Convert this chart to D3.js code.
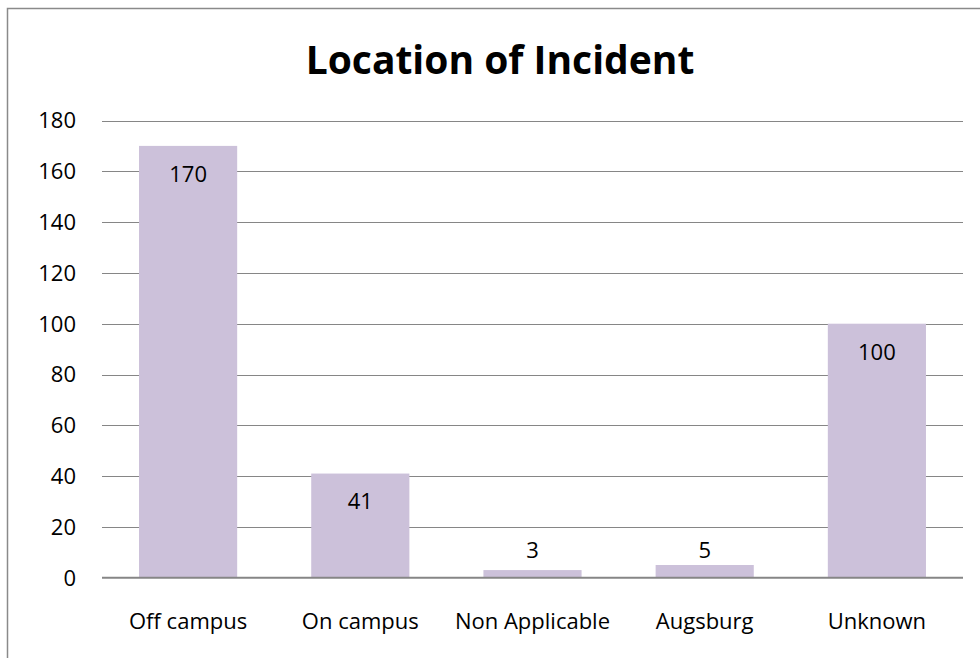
<!DOCTYPE html>
<html>
<head>
<meta charset="utf-8">
<script src="https://cdn.jsdelivr.net/npm/d3@7"></script>
<style>
  body { margin: 0; background: #fff; }
  text { font-family: 'Open Sans', sans-serif; fill: #000; }
</style>
</head>
<body>
<div id="chart"></div>
<script>
const categories = ['Off campus', 'On campus', 'Non Applicable', 'Augsburg', 'Unknown'];
const counts = [170, 41, 3, 5, 100];
const yTicks = [0, 20, 40, 60, 80, 100, 120, 140, 160, 180];
const title = 'Location of Incident';

const W = 980, H = 658;
const plot = { left: 102, right: 963, top: 120.5, bottom: 577.7 };

const svg = d3.select('#chart')
    .append('svg')
    .attr('width', W)
    .attr('height', H);

// chart frame (runs off the right/bottom edge like the original)
svg.append('rect')
    .attr('x', 7.5)
    .attr('y', 8.5)
    .attr('width', 1000)
    .attr('height', 700)
    .attr('fill', '#fff')
    .attr('stroke', '#8a8a8a')
    .attr('stroke-width', 1.5);

svg.append('text')
    .attr('x', 500)
    .attr('y', 74)
    .attr('text-anchor', 'middle')
    .style('font-size', '39px')
    .style('font-weight', 'bold')
    .text(title);

const x = d3.scaleBand()
    .domain(categories)
    .range([plot.left, plot.right])
    .paddingInner(0.43)
    .paddingOuter(0.215);

const y = d3.scaleLinear()
    .domain([0, 180])
    .range([plot.bottom, plot.top]);

// gridlines
svg.append('g')
    .selectAll('line')
    .data(yTicks.filter(d => d > 0))
    .enter().append('line')
    .attr('x1', plot.left)
    .attr('x2', plot.right)
    .attr('y1', d => Math.round(y(d)) + 0.5)
    .attr('y2', d => Math.round(y(d)) + 0.5)
    .attr('stroke', '#868686')
    .attr('stroke-width', 1.2);

// y labels
svg.append('g')
    .selectAll('text')
    .data(yTicks)
    .enter().append('text')
    .attr('x', 76)
    .attr('y', d => y(d))
    .attr('dy', '0.36em')
    .attr('text-anchor', 'end')
    .style('font-size', '22px')
    .text(d => d);

// bars
svg.append('g')
    .selectAll('rect')
    .data(counts)
    .enter().append('rect')
    .attr('x', (d, i) => x(categories[i]))
    .attr('y', d => y(d))
    .attr('width', x.bandwidth())
    .attr('height', d => y(0) - y(d))
    .attr('fill', '#ccc1da');

// baseline axis
svg.append('line')
    .attr('x1', plot.left)
    .attr('x2', plot.right)
    .attr('y1', y(0))
    .attr('y2', y(0))
    .attr('stroke', '#868686')
    .attr('stroke-width', 2);

// value labels: inside end, pushed above the bar when it is too short
svg.append('g')
    .selectAll('text')
    .data(counts)
    .enter().append('text')
    .attr('x', (d, i) => x(categories[i]) + x.bandwidth() / 2)
    .attr('y', d => (y(0) - y(d) < 40) ? y(0) - 28 : y(d) + 28)
    .attr('dy', '0.36em')
    .attr('text-anchor', 'middle')
    .style('font-size', '22px')
    .text(d => d);

// category labels
svg.append('g')
    .selectAll('text')
    .data(categories)
    .enter().append('text')
    .attr('x', d => x(d) + x.bandwidth() / 2)
    .attr('y', 629)
    .attr('text-anchor', 'middle')
    .style('font-size', '22px')
    .text(d => d);
</script>
</body>
</html>
